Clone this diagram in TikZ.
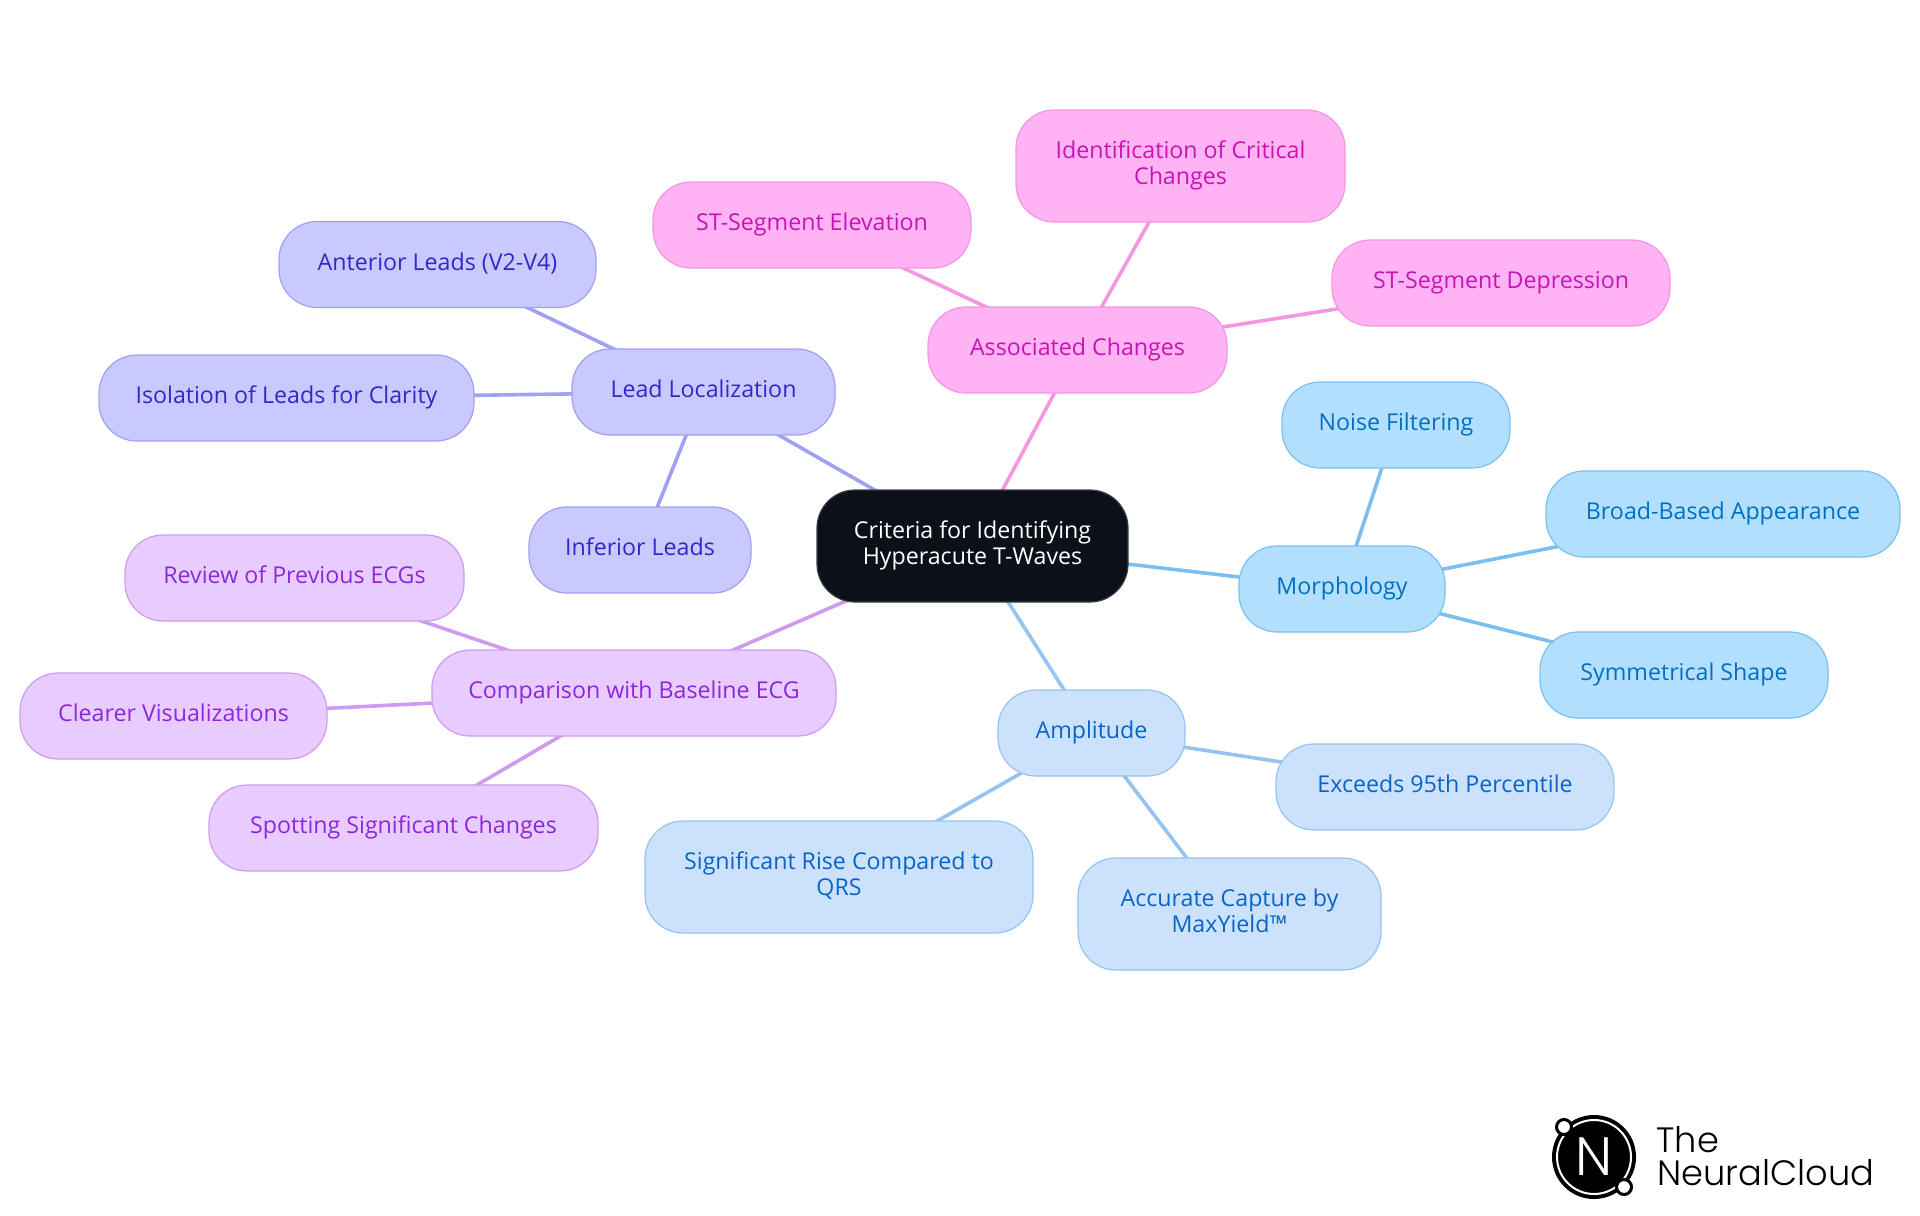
\documentclass[tikz,border=0pt]{standalone}
\usepackage{fontspec}
\usetikzlibrary{backgrounds}
\setmainfont{Open Sans}
\newfontfamily\logofont{Poppins Light}
\newcommand{\boxstrut}{\rule[-2.9pt]{0pt}{10.1pt}}
\definecolor{rootfill}{HTML}{0C1119}
\definecolor{rootline}{HTML}{3B4047}
\definecolor{morphfill}{HTML}{B3DFFF}
\definecolor{morphline}{HTML}{7ABFF0}
\definecolor{morphtext}{HTML}{0070C0}
\definecolor{ampfill}{HTML}{CCE2FC}
\definecolor{ampline}{HTML}{96C3F0}
\definecolor{amptext}{HTML}{0A64C8}
\definecolor{leadfill}{HTML}{C9C9FF}
\definecolor{leadline}{HTML}{A0A0F5}
\definecolor{leadtext}{HTML}{3228C8}
\definecolor{compfill}{HTML}{E8CCFF}
\definecolor{compline}{HTML}{CD9BF0}
\definecolor{comptext}{HTML}{8C28DC}
\definecolor{assocfill}{HTML}{FFB3F5}
\definecolor{assocline}{HTML}{F596E1}
\definecolor{assoctext}{HTML}{C814B4}

\begin{document}
\begin{tikzpicture}[x=0.5pt, y=-0.5pt,
    box/.style={draw, line width=0.6pt, rounded corners=19pt, align=center, inner sep=0pt,
      font=\fontsize{11.6}{13}\selectfont,
      execute at begin node=\boxstrut, execute at end node=\boxstrut},
    root/.style={box, fill=rootfill, draw=rootline, text=white},
    morph/.style={box, fill=morphfill, draw=morphline, text=morphtext},
    amp/.style={box, fill=ampfill, draw=ampline, text=amptext},
    lead/.style={box, fill=leadfill, draw=leadline, text=leadtext},
    comp/.style={box, fill=compfill, draw=compline, text=comptext},
    assoc/.style={box, fill=assocfill, draw=assocline, text=assoctext},
    link/.style={line width=1.8pt},
    logotext/.style={anchor=base west, inner sep=0pt, font=\logofont\fontsize{17.6}{17.6}\selectfont},
    orbit/.style={fill=white, draw=black, line width=1.5pt}]
  \useasboundingbox (0,0) rectangle (1920,1215);

  % root
  \node[root, minimum width=155.5pt, minimum height=56pt] (criteria) at (972.5,546) {Criteria for Identifying\\Hyperacute T-Waves};

  % morphology
  \node[morph, minimum width=103pt, minimum height=43pt] (morphology) at (1342,589) {Morphology};
  \node[morph, minimum width=114pt, minimum height=43pt] (noise) at (1396,425) {Noise Filtering};
  \node[morph, minimum width=177pt, minimum height=43pt] (broad) at (1723,514) {Broad-Based Appearance};
  \node[morph, minimum width=144pt, minimum height=43pt] (symmetrical) at (1684,675) {Symmetrical Shape};

  % amplitude
  \node[amp, minimum width=93.5pt, minimum height=43pt] (amplitude) at (1091.5,733) {Amplitude};
  \node[amp, minimum width=169pt, minimum height=43pt] (exceeds) at (1445,787) {Exceeds 95th Percentile};
  \node[amp, minimum width=194pt, minimum height=56pt] (rise) at (839,877) {Significant Rise Compared to\\QRS};
  \node[amp, minimum width=151.5pt, minimum height=56pt] (capture) at (1229.5,914) {Accurate Capture by\\MaxYield™};

  % lead localization
  \node[lead, minimum width=131.5pt, minimum height=43pt] (localization) at (703.5,392) {Lead Localization};
  \node[lead, minimum width=158.5pt, minimum height=43pt] (anterior) at (437.5,264.5) {Anterior Leads (V2-V4)};
  \node[lead, minimum width=187.5pt, minimum height=43pt] (isolation) at (286.5,398) {Isolation of Leads for Clarity};
  \node[lead, minimum width=111pt, minimum height=43pt] (inferior) at (640,550) {Inferior Leads};

  % baseline comparison
  \node[comp, minimum width=202pt, minimum height=43pt] (comparison) at (634,693) {Comparison with Baseline ECG};
  \node[comp, minimum width=169.5pt, minimum height=43pt] (review) at (294.5,578) {Review of Previous ECGs};
  \node[comp, minimum width=153.5pt, minimum height=43pt] (clearer) at (173.5,716) {Clearer Visualizations};
  \node[comp, minimum width=194.5pt, minimum height=43pt] (spotting) at (403.5,828) {Spotting Significant Changes};

  % associated changes
  \node[assoc, minimum width=149.5pt, minimum height=43pt] (associated) at (1077.5,350) {Associated Changes};
  \node[assoc, minimum width=159pt, minimum height=43pt] (elevation) at (812,225) {ST-Segment Elevation};
  \node[assoc, minimum width=164.5pt, minimum height=56pt] (identification) at (1180.5,166) {Identification of Critical\\Changes};
  \node[assoc, minimum width=169pt, minimum height=43pt] (depression) at (1501,283) {ST-Segment Depression};

  % connectors
  \begin{scope}[on background layer]
    \draw[link, morphline] (criteria.center) -- (morphology.center);
    \foreach \leaf in {noise, broad, symmetrical}
      \draw[link, morphline] (morphology.center) -- (\leaf.center);
    \draw[link, ampline] (criteria.center) -- (amplitude.center);
    \foreach \leaf in {exceeds, rise, capture}
      \draw[link, ampline] (amplitude.center) -- (\leaf.center);
    \draw[link, leadline] (criteria.center) -- (localization.center);
    \foreach \leaf in {anterior, isolation, inferior}
      \draw[link, leadline] (localization.center) -- (\leaf.center);
    \draw[link, compline] (criteria.center) -- (comparison.center);
    \foreach \leaf in {review, clearer, spotting}
      \draw[link, compline] (comparison.center) -- (\leaf.center);
    \draw[link, assocline] (criteria.center) -- (associated.center);
    \foreach \leaf in {elevation, identification, depression}
      \draw[link, assocline] (associated.center) -- (\leaf.center);
  \end{scope}

  % logo
  \fill[black] (1594,1157) circle (42);
  \draw[white, line width=1pt] (1594,1157) circle (37);
  \filldraw[orbit] (1564,1127) circle (7.5);
  \filldraw[orbit] (1624,1187) circle (7.5);
  \node[inner sep=0pt, text=white, font=\logofont\fontsize{27}{27}\selectfont] (logon) at (1594,1157) {N};
  \node[logotext] (logothe) at (1656,1152) {The};
  \node[logotext] (logoname) at (1657,1185) {NeuralCloud};
\end{tikzpicture}
\end{document}
